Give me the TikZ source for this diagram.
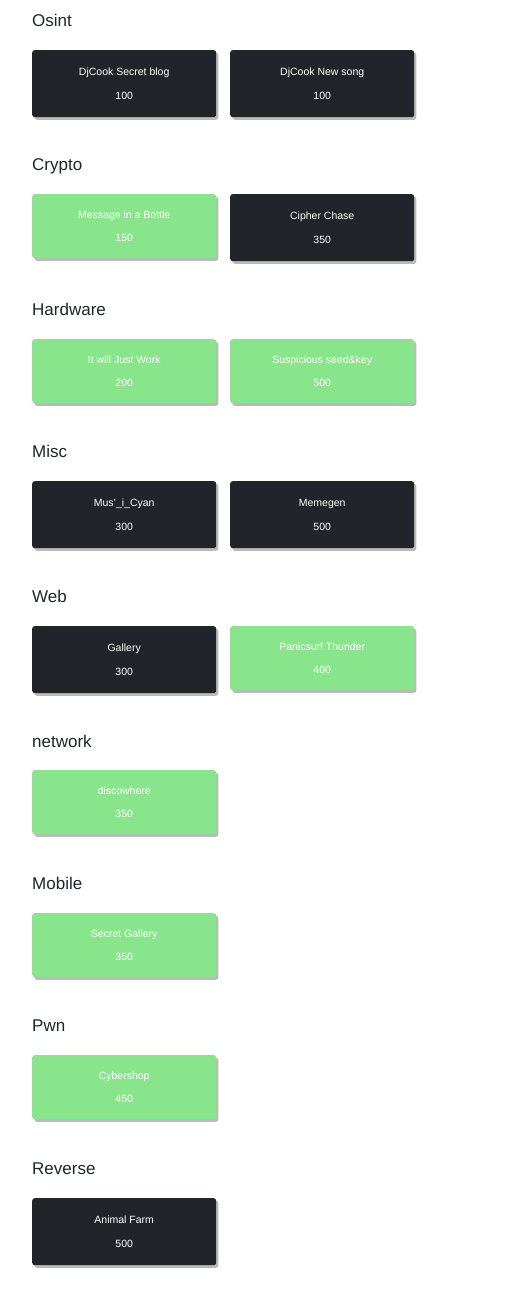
\documentclass[tikz,border=0pt]{standalone}
\usepackage{fontspec}
\setmainfont{Liberation Sans}
\usetikzlibrary{shadows}
\definecolor{darkcard}{RGB}{33,37,41}
\definecolor{greencard}{RGB}{137,229,139}
\definecolor{heading}{RGB}{33,37,41}
\tikzset{
  card/.style={anchor=north west, minimum width=184pt, inner sep=0pt,
    rounded corners=2.5pt, text=white, align=center,
    font=\fontsize{10.5}{23.5}\selectfont,
    drop shadow={shadow xshift=2.2pt, shadow yshift=-2.6pt, fill=black, opacity=0.27}},
  solved/.style={card, fill=greencard, minimum height=64pt},
  open/.style={card, fill=darkcard, minimum height=67pt},
  cat/.style={anchor=base west, inner sep=0pt, font=\fontsize{17}{20}\selectfont, text=heading}
}
\begin{document}
\begin{tikzpicture}[x=1pt,y=-1pt]
\fill[white] (0,0) rectangle (518,1292);
\useasboundingbox (0,0) rectangle (518,1292);
% Osint
\node[cat] (tOsint) at (32,26.5) {Osint};
\node[open] (c1) at (32,50) {DjCook Secret blog\\100};
\node[open] (c2) at (230,50) {DjCook New song\\100};
% Crypto
\node[cat] (tCrypto) at (32,170.5) {Crypto};
\node[solved] (c3) at (32,194) {Message in a Bottle\\150};
\node[open] (c4) at (230,194) {Cipher Chase\\350};
% Hardware
\node[cat] (tHardware) at (32,315.5) {Hardware};
\node[solved] (c5) at (32,339) {It will Just Work\\200};
\node[solved] (c6) at (230,339) {Suspicious seed\&key\\500};
% Misc
\node[cat] (tMisc) at (32,457.5) {Misc};
\node[open] (c7) at (32,481) {Mus'\_i\_Cyan\\300};
\node[open] (c8) at (230,481) {Memegen\\500};
% Web
\node[cat] (tWeb) at (32,602.5) {Web};
\node[open] (c9) at (32,626) {Gallery\\300};
\node[solved] (c10) at (230,626) {Panicsurf Thunder\\400};
% network
\node[cat] (tnetwork) at (32,747.5) {network};
\node[solved] (c11) at (32,770) {discowhere\\350};
% Mobile
\node[cat] (tMobile) at (32,889.5) {Mobile};
\node[solved] (c12) at (32,913) {Secret Gallery\\350};
% Pwn
\node[cat] (tPwn) at (32,1031.5) {Pwn};
\node[solved] (c13) at (32,1055) {Cybershop\\450};
% Reverse
\node[cat] (tReverse) at (32,1174.5) {Reverse};
\node[open] (c14) at (32,1198) {Animal Farm\\500};
\end{tikzpicture}
\end{document}
